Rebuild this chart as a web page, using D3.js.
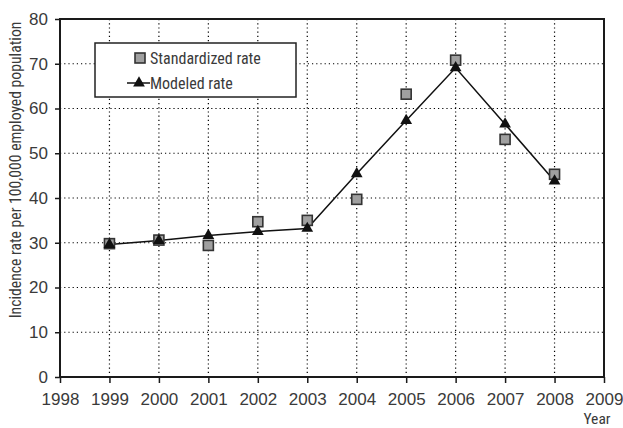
<!DOCTYPE html>
<html><head><meta charset="utf-8">
<script src="https://cdn.jsdelivr.net/npm/d3@7"></script>
<style>
body{margin:0;background:#fff;}
text{font-family:"Liberation Sans Narrow","Roboto Condensed","Liberation Sans",sans-serif;fill:#3a3a3a;}
</style></head><body>
<svg id="c" width="623" height="428"></svg>
<script>
const years = [1999,2000,2001,2002,2003,2004,2005,2006,2007,2008];
const standardized = [29.8,30.6,29.4,34.7,35.0,39.7,63.2,70.8,53.1,45.3];
const modeled = [29.6,30.5,31.6,32.5,33.2,45.4,57.3,69.1,56.5,43.8];
const xTicks = [1998,1999,2000,2001,2002,2003,2004,2005,2006,2007,2008,2009];
const yTicks = [0,10,20,30,40,50,60,70,80];

const svg = d3.select("#c");
const L=60,R=604,T=19,B=377;
const x = d3.scaleLinear().domain([1998,2009]).range([L,R]);
const y = d3.scaleLinear().domain([0,80]).range([B,T]);

// grid
const g = svg.append("g");
g.selectAll(".vg").data(xTicks.slice(1,-1)).enter().append("line")
 .attr("x1",d=>x(d)).attr("x2",d=>x(d)).attr("y1",T).attr("y2",B)
 .attr("stroke","#000").attr("stroke-width",1.2).attr("stroke-dasharray","1.2,3");
g.selectAll(".hg").data(yTicks.slice(1,-1)).enter().append("line")
 .attr("x1",L).attr("x2",R).attr("y1",d=>y(d)).attr("y2",d=>y(d))
 .attr("stroke","#000").attr("stroke-width",1.2).attr("stroke-dasharray","1.2,3");

// frame
svg.append("rect").attr("x",L).attr("y",T).attr("width",R-L).attr("height",B-T)
 .attr("fill","none").attr("stroke","#1a1a1a").attr("stroke-width",2);

// axes
const xa = svg.append("g").attr("transform",`translate(0,${B})`)
 .call(d3.axisBottom(x).tickValues(xTicks).tickFormat(d3.format("d")).tickSize(6).tickPadding(10));
const ya = svg.append("g").attr("transform",`translate(${L},0)`)
 .call(d3.axisLeft(y).tickValues(yTicks).tickSize(5).tickPadding(7));
[xa,ya].forEach(a=>{
  a.select(".domain").remove();
  a.selectAll(".tick line").attr("stroke","#1a1a1a").attr("stroke-width",1.5);
  a.selectAll("text").attr("font-size",17).attr("fill","#3a3a3a")
   .style("font-family",'"Liberation Sans Narrow","Liberation Sans",sans-serif');
});

// axis titles
svg.append("text").attr("transform","translate(21,170) rotate(-90)")
 .attr("text-anchor","middle").attr("font-size",15.7).text("Incidence rate per 100,000 employed population");
svg.append("text").attr("x",597).attr("y",424).attr("text-anchor","middle").attr("font-size",15.5).text("Year");

// modeled line
const line = d3.line().x((d,i)=>x(years[i])).y(d=>y(d));
svg.append("path").datum(modeled).attr("d",line).attr("fill","none").attr("stroke","#111").attr("stroke-width",1.5);

// standardized squares
svg.selectAll(".sq").data(standardized).enter().append("rect")
 .attr("x",(d,i)=>x(years[i])-5).attr("y",d=>y(d)-5).attr("width",10).attr("height",10)
 .attr("fill","#a0a0a0").attr("stroke","#333").attr("stroke-width",1.6);

// modeled triangles
const tri = d3.symbol().type(d3.symbolTriangle).size(60);
svg.selectAll(".tr").data(modeled).enter().append("path")
 .attr("d",tri).attr("transform",(d,i)=>`translate(${x(years[i])},${y(d)})`).attr("fill","#111");

// legend
const lg = svg.append("g");
lg.append("rect").attr("x",95).attr("y",43).attr("width",201).attr("height",54)
 .attr("fill","#fff").attr("stroke","#222").attr("stroke-width",1.5);
lg.append("rect").attr("x",135).attr("y",53).attr("width",10).attr("height",10)
 .attr("fill","#a0a0a0").attr("stroke","#333").attr("stroke-width",1.6);
lg.append("text").attr("x",150).attr("y",64).attr("font-size",16).text("Standardized rate");
lg.append("line").attr("x1",127).attr("x2",150).attr("y1",83).attr("y2",83).attr("stroke","#111").attr("stroke-width",1.5);
lg.append("path").attr("d",tri).attr("transform","translate(139,83)").attr("fill","#111");
lg.append("text").attr("x",150).attr("y",89).attr("font-size",16).text("Modeled rate");
</script>
</body></html>
